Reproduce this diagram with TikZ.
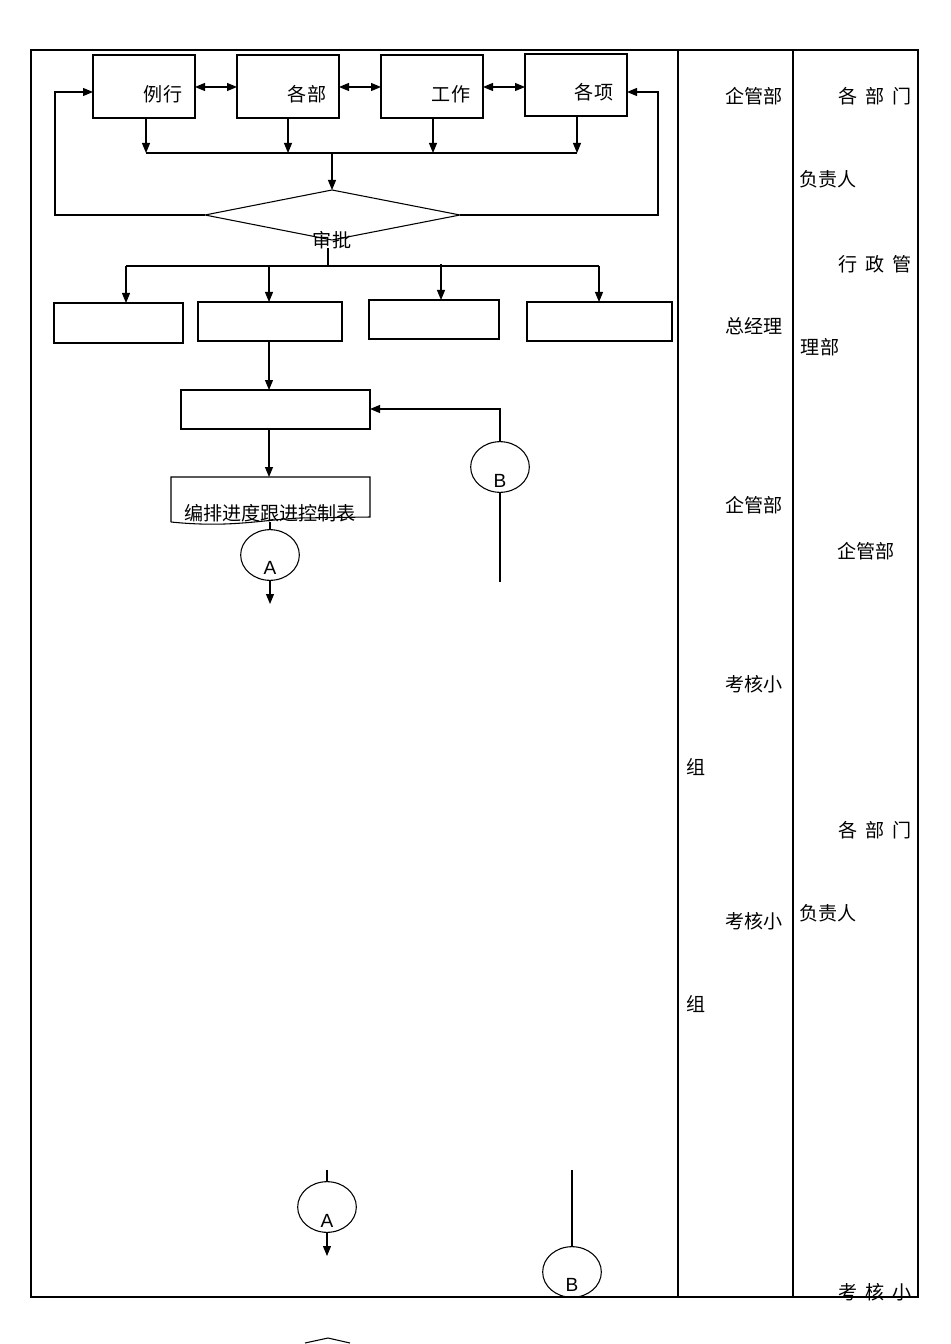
\documentclass[tikz,border=0pt]{standalone}
\usepackage{fontspec}
\setmainfont{Liberation Sans}
\newfontfamily\cjk{Noto Sans CJK SC}
\usetikzlibrary{arrows.meta,shapes.geometric}
\begin{document}
\begin{tikzpicture}[x=0.75pt,y=-0.75pt,line width=0.8pt,
  every node/.style={font=\cjk\fontsize{14.3}{16}\selectfont,inner sep=0pt},
  arr/.style={-{Triangle[length=7.5pt,width=6pt]}},
  darr/.style={{Triangle[length=7.5pt,width=6pt]}-{Triangle[length=7.5pt,width=6pt]}},
  circ/.style={draw,ellipse,minimum width=44pt,minimum height=38pt}]
\useasboundingbox (0,0) rectangle (950,1344);
% frame
\draw (31,50) rectangle (918,1297);
\draw (678,50) -- (678,1297) (793,50) -- (793,1297);
% top boxes
\draw (93,55) rectangle (195,118) (237,55) rectangle (339,118)
      (381,55) rectangle (483,118) (525,54) rectangle (627,116);
\node (b1) at (163,94) {例行}; \node (b2) at (307,94) {各部};
\node (b3) at (451,94) {工作}; \node (b4) at (594,92) {各项};
\coordinate (r1) at (195,87); \coordinate (l2) at (237,87);
\coordinate (r2) at (339,87); \coordinate (l3) at (381,87);
\coordinate (r3) at (483,87); \coordinate (l4) at (525,87);
\draw[darr] (r1) -- (l2); \draw[darr] (r2) -- (l3); \draw[darr] (r3) -- (l4);
\foreach \x/\y in {146/118,288/118,433/118,577/116} \draw[arr] (\x,\y) -- (\x,153);
\draw (146,153) -- (577,153);
% diamond
\coordinate (dt) at (332,190); \coordinate (dl) at (205,215);
\coordinate (dr) at (460,215); \coordinate (db) at (332,240);
\draw[arr] (332,153) -- (dt);
\draw (dt) -- (dr) -- (db) -- (dl) -- cycle;
\node at (332,240) {审批};
\draw[arr] (dl) -- (55,215) -- (55,92) -- (93,92);
\draw[arr] (dr) -- (658,215) -- (658,92) -- (627,92);
% branches
\draw (328,248) -- (328,265);
\draw (126,266) -- (599,266);
\draw[arr] (126,266) -- (126,303);
\draw[arr] (269,266) -- (269,302);
\draw[arr] (441,264) -- (441,300);
\draw[arr] (599,266) -- (599,302);
\draw (54,303) rectangle (183,343) (198,302) rectangle (342,341)
      (369,300) rectangle (499,339) (527,302) rectangle (672,341);
\draw[arr] (269,341) -- (269,390);
\draw (181,390) rectangle (370,429);
\draw[arr] (269,429) -- (269,477);
% document
\draw (171,522) -- (171,477) -- (370,477) -- (370,517) -- (300,518)
      .. controls (260,520) and (230,528) .. (171,522);
\node (doc) at (270,513) {编排进度跟进控制表};
\node[circ] (A1) at (270,555) {};
\node[font=\fontsize{14.3}{16}\selectfont] at (270,568) {A};
\draw (270,522) -- (A1);
\coordinate (a1e) at (270,604);
\draw[arr] (A1) -- (a1e);
\node[circ] (B1) at (500,467) {};
\node[font=\fontsize{14.3}{16}\selectfont] at (500,481) {B};
\draw[arr] (B1.north) -- (500,409) -- (370,409);
\coordinate (b1e) at (500,582);
\draw (B1) -- (b1e);
% bottom
\node[circ] (A2) at (327,1207) {};
\node[font=\fontsize{14.3}{16}\selectfont] at (327,1221) {A};
\draw (327,1170) -- (A2);
\coordinate (a2e) at (327,1256);
\draw[arr] (A2) -- (a2e);
\node[circ] (B2) at (572,1272) {};
\node[font=\fontsize{14.3}{16}\selectfont] at (572,1285) {B};
\draw (572,1170) -- (B2);
\draw (305,1343) -- (328,1338) -- (350,1343);
% right columns
\node at (754,96) {企管部};
\node at (754,326) {总经理};
\node at (754,505) {企管部};
\node at (754,684) {考核小};
\node at (696,767) {组};
\node at (754,921) {考核小};
\node at (696,1004) {组};
\node at (875,96) {各\hspace{0.4em}部\hspace{0.4em}门};
\node at (828,179) {负责人};
\node at (875,264) {行\hspace{0.4em}政\hspace{0.4em}管};
\node at (820,347) {理部};
\node at (866,551) {企管部};
\node at (875,830) {各\hspace{0.4em}部\hspace{0.4em}门};
\node at (828,913) {负责人};
\node at (875,1292) {考\hspace{0.4em}核\hspace{0.4em}小};
\end{tikzpicture}
\end{document}
